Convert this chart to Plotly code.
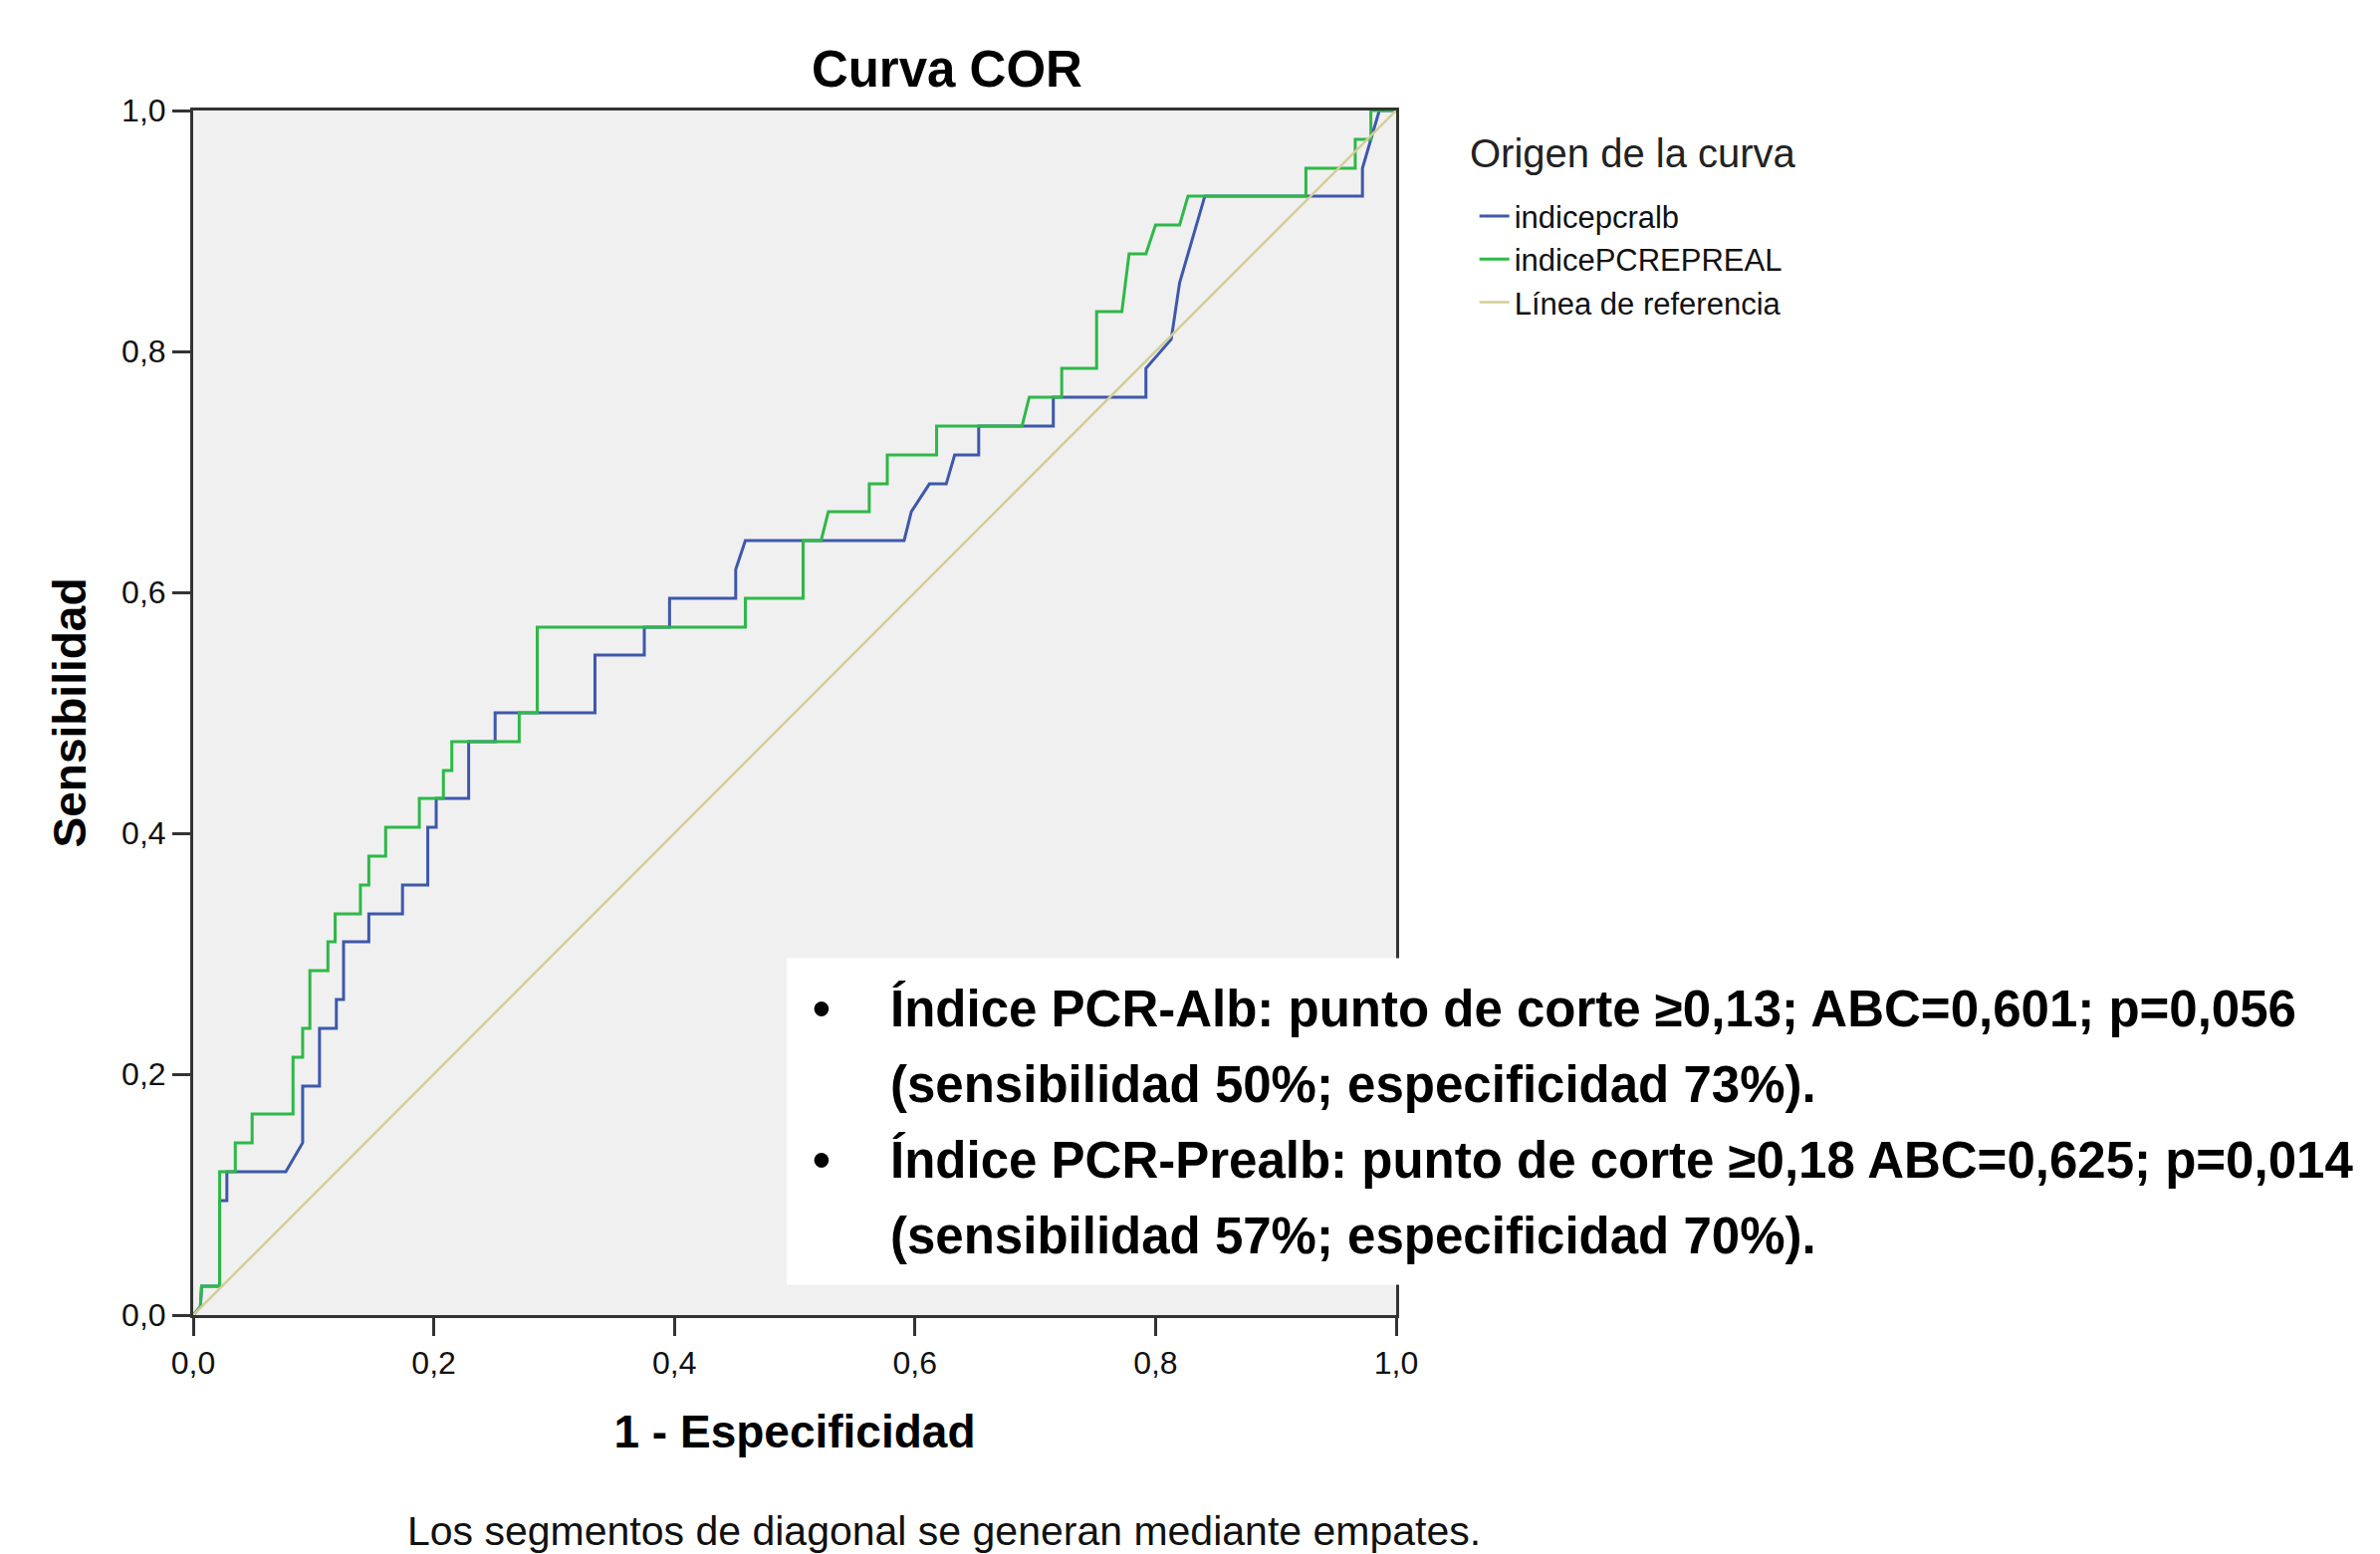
import plotly.graph_objects as go

# ---- data ----
fpr_alb = [0, 0.006, 0.007, 0.022, 0.022, 0.028, 0.028, 0.077, 0.091, 0.091, 0.105, 0.105,
           0.119, 0.119, 0.125, 0.125, 0.146, 0.146, 0.174, 0.174, 0.195, 0.195, 0.202, 0.202,
           0.229, 0.229, 0.251, 0.251, 0.334, 0.334, 0.375, 0.375, 0.396, 0.396, 0.451, 0.451,
           0.459, 0.591, 0.597, 0.612, 0.626, 0.633, 0.653, 0.653, 0.715, 0.715, 0.792, 0.792,
           0.813, 0.820, 0.841, 0.972, 0.972, 0.986, 1.0]
tpr_alb = [0, 0.007, 0.024, 0.024, 0.095, 0.095, 0.119, 0.119, 0.143, 0.190, 0.190, 0.238,
           0.238, 0.262, 0.262, 0.310, 0.310, 0.333, 0.333, 0.357, 0.357, 0.405, 0.405, 0.429,
           0.429, 0.476, 0.476, 0.500, 0.500, 0.548, 0.548, 0.571, 0.571, 0.595, 0.595, 0.619,
           0.643, 0.643, 0.667, 0.690, 0.690, 0.714, 0.714, 0.738, 0.738, 0.762, 0.762, 0.786,
           0.810, 0.857, 0.929, 0.929, 0.952, 1.0, 1.0]

fpr_prealb = [0, 0.006, 0.007, 0.022, 0.022, 0.035, 0.035, 0.049, 0.049, 0.083, 0.083, 0.091,
              0.091, 0.097, 0.097, 0.112, 0.112, 0.118, 0.118, 0.139, 0.139, 0.146, 0.146, 0.160,
              0.160, 0.188, 0.188, 0.208, 0.208, 0.215, 0.215, 0.271, 0.271, 0.286, 0.286, 0.459,
              0.459, 0.507, 0.507, 0.522, 0.528, 0.562, 0.562, 0.577, 0.577, 0.618, 0.618, 0.689,
              0.695, 0.722, 0.722, 0.751, 0.751, 0.772, 0.778, 0.792, 0.800, 0.820, 0.827, 0.925,
              0.925, 0.966, 0.966, 0.979, 0.979, 1.0]
tpr_prealb = [0, 0.007, 0.024, 0.024, 0.119, 0.119, 0.143, 0.143, 0.167, 0.167, 0.214, 0.214,
              0.238, 0.238, 0.286, 0.286, 0.310, 0.310, 0.333, 0.333, 0.357, 0.357, 0.381, 0.381,
              0.405, 0.405, 0.429, 0.429, 0.452, 0.452, 0.476, 0.476, 0.500, 0.500, 0.571, 0.571,
              0.595, 0.595, 0.643, 0.643, 0.667, 0.667, 0.690, 0.690, 0.714, 0.714, 0.738, 0.738,
              0.762, 0.762, 0.786, 0.786, 0.833, 0.833, 0.881, 0.881, 0.905, 0.905, 0.929, 0.929,
              0.952, 0.952, 0.976, 0.976, 1.0, 1.0]

ref_x = [0, 1]
ref_y = [0, 1]

series_names = ["indicepcralb", "indicePCREPREAL", "Línea de referencia"]
legend_title = "Origen de la curva"
tick_vals = [0, 0.2, 0.4, 0.6, 0.8, 1.0]

summary_lines = [
    "Índice PCR-Alb: punto de corte ≥0,13; ABC=0,601; p=0,056",
    "(sensibilidad 50%; especificidad 73%).",
    "Índice PCR-Prealb: punto de corte ≥0,18 ABC=0,625; p=0,014",
    "(sensibilidad 57%; especificidad 70%).",
]

FONT = "Liberation Sans, Arial, sans-serif"
AX = "#333333"

fig = go.Figure()
fig.add_trace(go.Scatter(x=fpr_alb, y=tpr_alb, mode="lines", name=series_names[0],
                         line=dict(color="#3E58AC", width=3)))
fig.add_trace(go.Scatter(x=fpr_prealb, y=tpr_prealb, mode="lines", name=series_names[1],
                         line=dict(color="#2EB848", width=3)))
fig.add_trace(go.Scatter(x=ref_x, y=ref_y, mode="lines", name=series_names[2],
                         line=dict(color="#D3CE97", width=2.5)))

axis_common = dict(range=[0, 1], showgrid=False, zeroline=False, showline=True, mirror=True,
                   linecolor=AX, linewidth=3, ticks="outside", ticklen=18, tickwidth=3,
                   tickcolor=AX, tickvals=tick_vals, tickformat=".1f",
                   tickfont=dict(family=FONT, size=32, color="#111111"))

fig.update_layout(
    width=2390, height=1561,
    margin=dict(l=194, r=988, t=111, b=240),
    paper_bgcolor="white", plot_bgcolor="#F0F0F0",
    separators=", ",
    font=dict(family=FONT, color="black"),
    title=dict(text="<b>Curva COR</b>", xref="paper", x=0.6266, xanchor="center",
               yref="container", y=1 - 69 / 1561, yanchor="middle",
               font=dict(family=FONT, size=51, color="black")),
    xaxis=dict(axis_common, title=dict(text="<b>1 - Especificidad</b>", standoff=36,
                                       font=dict(family=FONT, size=46, color="black"))),
    yaxis=dict(axis_common, title=dict(text="<b>Sensibilidad</b>", standoff=22,
                                       font=dict(family=FONT, size=46, color="black"))),
    legend=dict(x=1.0651, xanchor="left", y=0.9345, yanchor="top",
                bgcolor="rgba(0,0,0,0)", tracegroupgap=0,
                font=dict(family=FONT, size=31, color="#111111")),
    showlegend=True,
)

# legend heading
fig.add_annotation(xref="paper", yref="paper", x=1.0593, y=0.9647, xanchor="left",
                   yanchor="middle", text=legend_title, showarrow=False,
                   font=dict(family=FONT, size=40, color="#222222"))

# white overlay box with summary text
fig.add_shape(type="rect", xref="paper", yref="paper", x0=0.4934, x1=1.82, y0=0.0252, y1=0.2962,
              fillcolor="white", line=dict(width=0), layer="above")

line_y = [0.2541, 0.1913, 0.1285, 0.0657]
for i, txt in enumerate(summary_lines):
    fig.add_annotation(xref="paper", yref="paper", x=0.5778, y=line_y[i], xanchor="left",
                       yanchor="middle", text="<b>" + txt + "</b>", showarrow=False,
                       font=dict(family=FONT, size=51, color="black"))
for i in (0, 2):
    fig.add_annotation(xref="paper", yref="paper", x=0.5222, y=line_y[i], xanchor="center",
                       yanchor="middle", text="<b>•</b>", showarrow=False,
                       font=dict(family=FONT, size=51, color="black"))

fig.add_annotation(xref="paper", yref="paper", x=0.624, y=-0.1797, xanchor="center",
                   yanchor="middle", text="Los segmentos de diagonal se generan mediante empates.",
                   showarrow=False, font=dict(family=FONT, size=41, color="#111111"))

fig.write_html("out.html", config={"displayModeBar": False},
               post_script="document.body.style.margin='0';")
